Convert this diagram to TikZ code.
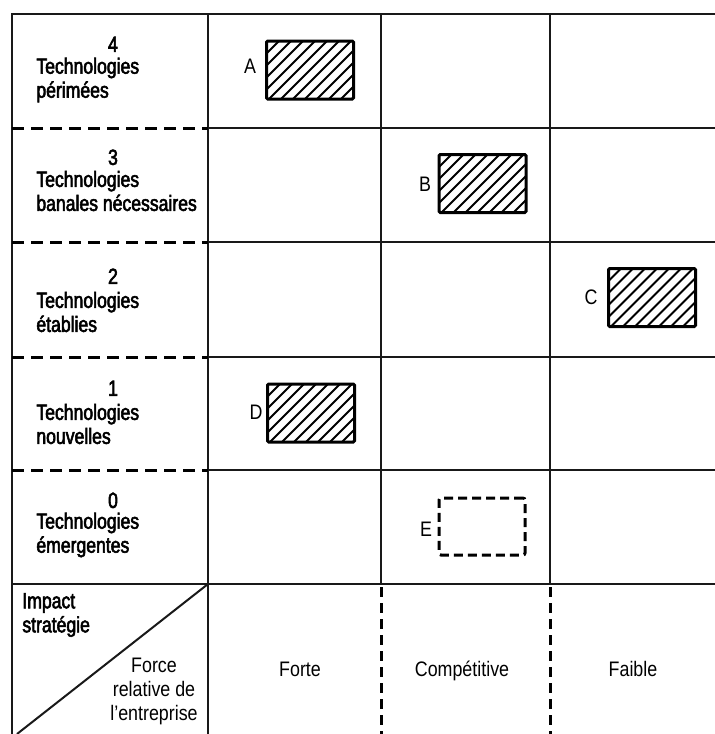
\documentclass[tikz,border=0pt]{standalone}
\usepackage{fontspec}
\setmainfont[FakeStretch=0.85]{Liberation Sans}
\newfontfamily\semib[FakeStretch=0.8,FakeBold=2.5]{Liberation Sans}
\usetikzlibrary{calc}
\tikzset{
  grid/.style={line width=1pt, black!90},
  sepdash/.style={line width=1.5pt, dash pattern=on 6pt off 3.5pt},
  coldash/.style={line width=1.5pt, dash pattern=on 5pt off 3pt},
  rowlab/.style={font=\semib\fontsize{11}{12}\selectfont, align=left, anchor=west, inner sep=0pt},
  rownum/.style={font=\semib\fontsize{11}{12}\selectfont, inner sep=0pt, text height=7.9pt, text depth=0pt},
  collab/.style={font=\fontsize{10.5}{12}\selectfont, inner sep=0pt, text height=7.6pt, text depth=0pt},
  boxlab/.style={font=\fontsize{10.5}{12}\selectfont, inner sep=0pt, text height=7.6pt, text depth=0pt},
  hatchbox/.style={draw, line width=1.5pt, rounded corners=0.6pt, inner sep=0pt,
    minimum width=43.5pt, minimum height=29pt,
    path picture={
      \foreach \k in {-48,-42,...,48}
        \draw[line width=1pt]
          ($(path picture bounding box.center)+(\k pt-20pt,-20pt)$) -- ++(40pt,40pt);
    }},
  emptybox/.style={draw, line width=1.5pt, dash pattern=on 4.5pt off 2.5pt,
    rounded corners=1pt, inner sep=0pt, minimum width=43pt, minimum height=28.5pt}
}
\begin{document}
\begin{tikzpicture}[x=0.5pt, y=-0.5pt]
\useasboundingbox[fill=white] (0,0) rectangle (715,734);

% outer frame and solid grid
\draw[grid] (12,734) -- (12,14) -- (715,14);
\draw[grid] (208,14) -- (208,734);
\draw[grid] (381,14) -- (381,584);
\draw[grid] (550,14) -- (550,584);
\foreach \yy in {128,242,357,470}
  \draw[grid] (208,\yy) -- (715,\yy);
\draw[grid] (12,584) -- (715,584);

% dashed separators of the first column
\foreach \yy in {128,242,357,470}
  \draw[sepdash] (12,\yy) -- (208,\yy);

% dashed separators of the bottom row
\draw[coldash] (381,587) -- (381,734);
\draw[coldash] (550,587) -- (550,734);

% diagonal of the corner cell
\coordinate (cornerTop) at (208,584);
\coordinate (cornerBot) at (17,734);
\draw[grid] (cornerBot) -- (cornerTop);

% row headings
\node[rownum] (n4) at (113,44) {4};
\node[rowlab] (t4) at (36,80) {Technologies\\périmées};
\node[rownum] (n3) at (113,157) {3};
\node[rowlab] (t3) at (36,191) {Technologies\\banales nécessaires};
\node[rownum] (n2) at (113,276) {2};
\node[rowlab] (t2) at (36,312) {Technologies\\établies};
\node[rownum] (n1) at (113,388) {1};
\node[rowlab] (t1) at (36,424) {Technologies\\nouvelles};
\node[rownum] (n0) at (113,500) {0};
\node[rowlab] (t0) at (36,535) {Technologies\\émergentes};

% corner cell
\node[rowlab] (impact) at (22,615) {Impact\\stratégie};
\node[font=\fontsize{10.5}{12}\selectfont, inner sep=0pt, align=center] (force) at (154,691) {Force\\relative de\\l’entreprise};

% column headings
\node[collab] (forte) at (300,669) {Forte};
\node[collab] (compet) at (462,669) {Compétitive};
\node[collab] (faible) at (633,669) {Faible};

% positioned technologies
\node[hatchbox] (boxA) at (310,70) {};
\node[boxlab] (labA) at (250,66) {A};
\node[hatchbox] (boxB) at (482.5,183.5) {};
\node[boxlab] (labB) at (425,184) {B};
\node[hatchbox] (boxC) at (652,297.5) {};
\node[boxlab] (labC) at (591,297) {C};
\node[hatchbox] (boxD) at (311,413) {};
\node[boxlab] (labD) at (256,412) {D};
\node[emptybox] (boxE) at (482,526.5) {};
\node[boxlab] (labE) at (426,529) {E};
\end{tikzpicture}
\end{document}
